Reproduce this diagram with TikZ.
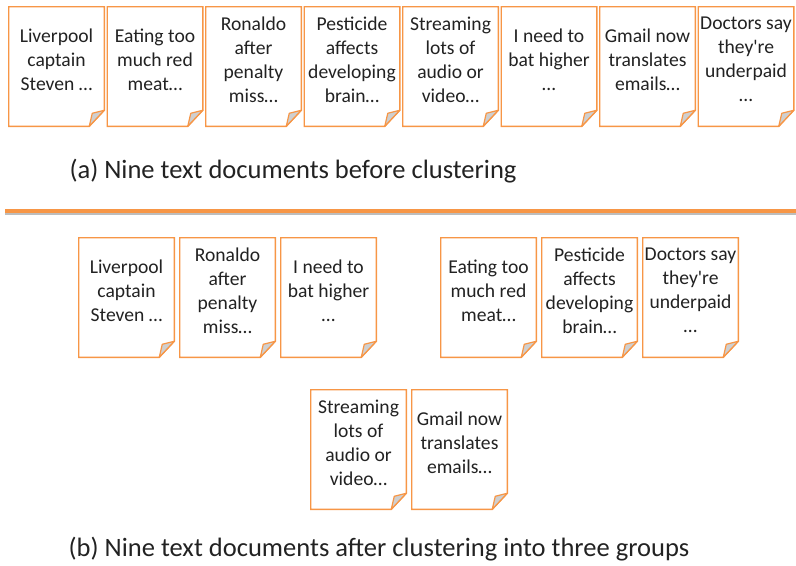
\documentclass[tikz,border=0pt]{standalone}
\usepackage{fontspec}
\setmainfont{Carlito}
\usepackage{tikz}
\usetikzlibrary{positioning, calc}
\definecolor{docOrange}{HTML}{F79646}
\definecolor{foldGray}{HTML}{CFCFCF}
\definecolor{docText}{HTML}{222222}
\definecolor{sepShadow}{HTML}{BDBDBD}
\tikzset{
  paper/.style={rectangle, minimum width=71.25pt, minimum height=89.25pt, inner sep=0pt},
  paperEdge/.style={draw=docOrange, line width=1.1pt, fill=white, line join=miter},
  foldFill/.style={draw=docOrange, line width=0.9pt, fill=foldGray, line join=round},
  paperText/.style={align=center, font=\fontsize{14.7}{18}\selectfont, text=docText, inner sep=0pt},
  caption/.style={font=\fontsize{19.9}{23}\selectfont, text=docText, inner sep=0pt},
  sepLine/.style={draw=docOrange, line width=2.3pt},
  sepShade/.style={draw=sepShadow, line width=2pt},
}

\begin{document}
\begin{tikzpicture}[x=0.75pt, y=-0.75pt]
    \useasboundingbox (0,0) rectangle (796,565);
    % the documents, folded corner at the bottom right
    \foreach \nm/\x/\y/\txt in {
        a1/56.5/66.5/{Liverpool\\captain\\Steven …},
        a2/155/66.5/{Eating too\\much red\\meat…},
        a3/253.5/66.5/{Ronaldo\\after\\penalty\\miss…},
        a4/352/66.5/{Pesticide\\affects\\developing\\brain…},
        a5/450.5/66.5/{Streaming\\lots of\\audio or\\video…},
        a6/549/66.5/{I need to\\bat higher\\…},
        a7/647.5/66.5/{Gmail now\\translates\\emails…},
        a8/746/66.5/{Doctors say\\they\textquotesingle re\\underpaid\\…},
        b1/126.5/297.5/{Liverpool\\captain\\Steven …},
        b2/227.5/297.5/{Ronaldo\\after\\penalty\\miss…},
        b3/328.5/297.5/{I need to\\bat higher\\…},
        c1/488.5/297.5/{Eating too\\much red\\meat…},
        c2/589.5/297.5/{Pesticide\\affects\\developing\\brain…},
        c3/690.5/297.5/{Doctors say\\they\textquotesingle re\\underpaid\\…},
        e1/358.5/449.5/{Streaming\\lots of\\audio or\\video…},
        e2/459.5/449.5/{Gmail now\\translates\\emails…}} {
      \node[paper] (\nm) at (\x,\y) {};
      \draw[paperEdge] (\nm.north west) -- (\nm.north east)
        -- ([yshift=12pt]\nm.south east) -- ([xshift=-11.25pt]\nm.south east)
        -- (\nm.south west) -- cycle;
      \draw[foldFill] ([yshift=12pt]\nm.south east) -- ([xshift=-11.25pt]\nm.south east)
        -- ([shift={(-9pt,9.75pt)}]\nm.south east) -- cycle;
      \node[paperText] (\nm text) at ([yshift=5.25pt]\nm.center) {\txt};
    }
    \node[caption] (capA) at (293,171) {(a) Nine text documents before clustering};
    % separator
    \draw[sepShade] (5,213.5) -- (796,213.5);
    \draw[sepLine] (5,211) -- (796,211);
    \node[caption] (capB) at (379,549) {(b) Nine text documents after clustering into three groups};
\end{tikzpicture}
\end{document}
